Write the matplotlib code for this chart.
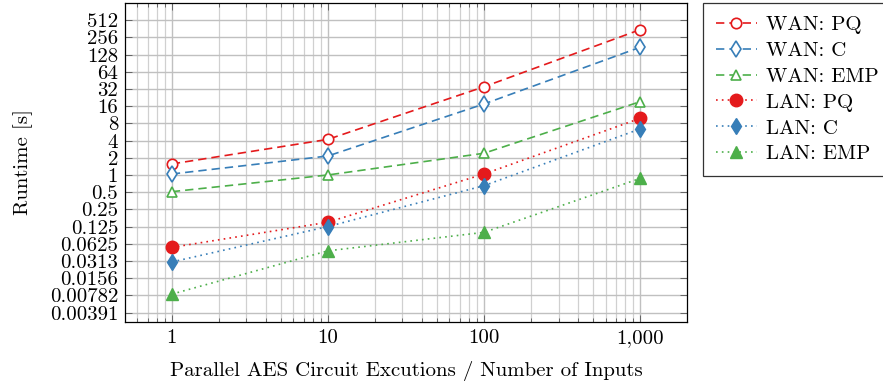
import numpy as np
import matplotlib
matplotlib.use("Agg")
import matplotlib.pyplot as plt
from matplotlib.ticker import FixedLocator, LogLocator, NullFormatter

plt.rcParams['font.family'] = ['cmr10', 'DejaVu Serif']
plt.rcParams['mathtext.fontset'] = 'cm'
plt.rcParams['axes.unicode_minus'] = False

# data
inputs = [1, 10, 100, 1000]
wan_pq = [1.56, 4.2, 35, 350]
wan_c = [1.04, 2.15, 17.5, 172]
wan_emp = [0.51, 1.0, 2.4, 19.2]
lan_pq = [0.054, 0.149, 1.04, 9.8]
lan_c = [0.030, 0.125, 0.65, 6.4]
lan_emp = [0.0082, 0.047, 0.099, 0.87]

ytick_vals = [2.0 ** k for k in range(9, -9, -1)]
ytick_labels = ['512', '256', '128', '64', '32', '16', '8', '4', '2', '1',
                '0.5', '0.25', '0.125', '0.0625', '0.0313', '0.0156',
                '0.00782', '0.00391']
xtick_labels = ['1', '10', '100', '1,000']

red = '#e41a1c'
blue = '#377eb8'
green = '#4daf4a'

fig = plt.figure(figsize=(8.83, 3.85), dpi=100)
ax = fig.add_axes([125 / 883, 1 - 322 / 385, (687 - 125) / 883, (322 - 3) / 385])

dash = (0, (5, 3))
dot = (0, (1, 2.5))
lw = 1.2
ms = 7.5

ax.plot(inputs, wan_pq, color=red, ls=dash, lw=lw, marker='o', ms=ms,
        mfc='white', mew=1.2, label='WAN: PQ')
ax.plot(inputs, wan_c, color=blue, ls=dash, lw=lw, marker='d', ms=8.5,
        mfc='white', mew=1.2, label='WAN: C')
ax.plot(inputs, wan_emp, color=green, ls=dash, lw=lw, marker='^', ms=ms,
        mfc='white', mew=1.2, label='WAN: EMP')
ax.plot(inputs, lan_pq, color=red, ls=dot, lw=lw, marker='o', ms=9,
        label='LAN: PQ')
ax.plot(inputs, lan_c, color=blue, ls=dot, lw=lw, marker='d', ms=8.5,
        label='LAN: C')
ax.plot(inputs, lan_emp, color=green, ls=dot, lw=lw, marker='^', ms=8,
        label='LAN: EMP')

ax.set_xscale('log')
ax.set_yscale('log', base=2)
ax.set_xlim(10 ** -0.3, 10 ** 3.3)
ax.set_ylim(2 ** -8.55, 2 ** 10)

ax.set_xticks(inputs)
ax.set_xticklabels(xtick_labels)
ax.xaxis.set_minor_locator(LogLocator(base=10, subs=np.arange(2, 10)))
ax.xaxis.set_minor_formatter(NullFormatter())
ax.set_yticks(ytick_vals)
ax.set_yticklabels(ytick_labels)
ax.yaxis.set_minor_locator(FixedLocator([]))

ax.tick_params(which='both', direction='in', top=True, right=True,
               labelsize=15, width=0.6, color='#555555')
ax.tick_params(which='major', length=5, pad=5)
ax.tick_params(which='minor', length=3)

ax.grid(True, which='major', color='#c0c0c0', lw=1.0)
ax.grid(True, which='minor', axis='x', color='#d0d0d0', lw=0.9)
ax.set_axisbelow(True)
for s in ax.spines.values():
    s.set_linewidth(0.9)

ax.set_xlabel('Parallel AES Circuit Excutions / Number of Inputs', fontsize=15, labelpad=10)
ax.set_ylabel('Runtime [s]', fontsize=15, labelpad=12)

leg = fig.legend(loc='upper left', bbox_to_anchor=(703 / 883, 1 - 3 / 385),
                 fontsize=15, frameon=True, fancybox=False, edgecolor='black',
                 handlelength=2.0, handletextpad=0.4, borderpad=0.6,
                 labelspacing=0.35, borderaxespad=0)
leg.get_frame().set_linewidth(0.9)

fig.savefig('out.png', dpi=100)
